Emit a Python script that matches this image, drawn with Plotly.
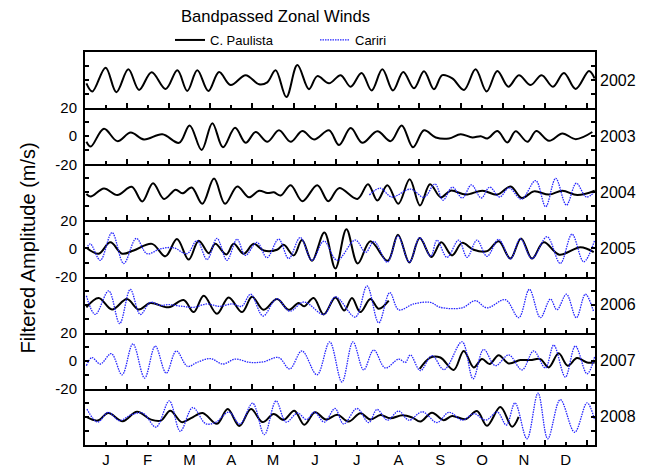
import plotly.graph_objects as go
from plotly.subplots import make_subplots

years = ["2002", "2003", "2004", "2005", "2006", "2007", "2008"]
month_days = [15, 45, 75, 105, 135, 165, 195, 225, 255, 285, 315, 345]
month_labels = ["J", "F", "M", "A", "M", "J", "J", "A", "S", "O", "N", "D"]

# ---- C. Paulista (black) : day of year, filtered amplitude (m/s) ----
cp2002_d = [1.0, 5.3, 14.8, 22.5, 31.1, 38.8, 47.8, 57.9, 66.3, 73.4, 80.6, 88.5, 96.2, 104.5, 115.3, 124.9, 130.8,
            136.8, 144.5, 152.4, 160.7, 166.7, 175.1, 183.5, 190.6, 198.5, 205.7, 213.4, 221.0, 228.4, 236.1, 243.3,
            250.4, 256.4, 263.6, 272.0, 280.3, 288.2, 295.9, 303.8, 311.4, 319.8, 327.7, 335.8, 343.7, 352.1, 361.7, 365.7]
cp2002_v = [-2.3, -8.1, 8.8, -8.6, 7.7, -7.0, 5.6, -6.3, 7.0, -7.7, 7.0, -7.7, 5.8, -3.5, 3.5, -3.0, -1.6,
            7.0, -12.1, 10.7, -6.5, 2.8, -2.3, 3.5, -4.7, 5.1, -7.4, 7.7, -7.4, 5.8, -5.8, 6.3,
            -6.5, 3.5, 1.2, -7.0, 7.7, -8.1, 6.5, -4.7, 3.5, -3.5, 3.5, -4.7, 5.1, -6.3, 6.5, 1.2]

cp2003_d = [1.0, 4.1, 13.6, 23.2, 32.8, 42.3, 55.5, 67.5, 75.1, 83.7, 91.4, 99.0, 107.7, 115.3, 122.5, 130.9, 139.2,
            147.6, 156.0, 164.4, 175.1, 182.3, 190.7, 199.0, 209.8, 219.4, 227.3, 235.4, 243.3, 251.7, 261.2, 269.6,
            278.0, 284.0, 288.8, 296.0, 303.1, 309.1, 317.5, 323.9, 333.0, 342.6, 352.2, 364.1]
cp2003_v = [-4.0, -7.4, 5.3, -3.5, 2.6, -2.3, 1.4, -4.7, 7.7, -9.8, 9.3, -7.9, 6.0, -4.7, 3.0, -4.0, 4.2,
            -4.0, 3.7, -2.3, 4.2, -6.3, 5.8, -4.7, 3.5, -3.5, 7.7, -7.9, 4.2, -0.9, -1.6, 1.4,
            -0.9, 0.0, -1.6, 3.7, -4.4, 3.5, -4.0, 3.7, -3.3, 1.9, -2.1, 3.0]

cp2004_d = [1.0, 4.1, 13.6, 23.2, 33.5, 41.1, 48.8, 56.7, 65.1, 69.9, 76.6, 84.2, 92.6, 100.5, 109.3, 117.7, 124.9,
            130.9, 135.6, 140.4, 147.6, 156.0, 166.7, 174.6, 182.3, 195.5, 203.1, 209.8, 217.0, 224.9, 233.0, 240.4,
            247.6, 255.3, 262.4, 273.2, 285.2, 295.9, 305.5, 313.4, 322.2, 333.0, 342.6, 353.3, 365.8]
cp2004_v = [-1.2, -3.0, 2.8, -1.9, 4.0, -6.5, 6.5, -4.7, 1.9, -0.7, 3.5, -8.1, 9.8, -8.1, 4.2, -3.5, 1.2,
            -0.5, 0.0, -2.3, 5.1, -6.3, 5.1, -6.3, 3.0, -4.7, 5.8, -5.8, 5.1, -8.1, 9.3, -9.3,
            5.8, -3.5, 1.2, -1.6, 1.2, -1.6, 4.2, -4.0, 0.7, -1.6, 1.2, -1.9, 1.2]

cp2005_d = [1.0, 9.8, 18.2, 26.6, 34.9, 48.1, 57.7, 66.0, 74.4, 81.6, 88.8, 93.5, 101.4, 106.7, 113.9, 121.1, 128.2,
            137.8, 142.6, 149.8, 155.7, 162.9, 171.8, 179.7, 187.6, 195.7, 204.8, 217.2, 224.6, 232.8, 240.2, 248.6,
            255.7, 263.4, 270.6, 278.9, 288.5, 296.9, 305.3, 312.9, 320.8, 329.2, 340.4, 355.5, 365.1]
cp2005_v = [0.5, -3.7, 4.4, -3.7, -1.4, 3.3, -5.6, 6.7, -7.9, 5.6, -3.3, 3.3, -4.2, 3.3, -3.7, 3.3, -1.4,
            -0.9, 2.6, -4.9, 6.0, -8.8, 11.4, -14.2, 13.7, -10.7, 5.1, -8.8, 9.8, -10.0, 7.4, -6.0,
            4.4, -4.9, 4.0, -0.9, -1.9, 5.1, -7.2, 7.2, -7.2, 4.4, -4.4, 0.9, -2.6]

cp2006_d = [1.0, 9.8, 19.4, 30.1, 38.5, 46.9, 60.0, 70.8, 78.0, 85.2, 94.7, 103.1, 112.7, 119.9, 128.2, 137.8, 146.2,
            153.3, 157.2, 164.1, 171.3, 179.7, 186.1, 191.6, 197.6, 204.8, 210.8, 218.0]
cp2006_v = [-1.9, 4.7, -3.5, 4.0, -3.5, 1.2, -1.9, 3.3, -5.3, 6.3, -6.5, 5.1, -5.3, 5.6, -3.7, 4.0, -3.7,
            1.2, -1.2, 4.7, -7.0, 5.1, -4.2, 4.7, -5.3, 4.0, -3.0, 2.8]

cp2007_d = [240.2, 247.8, 255.0, 264.6, 271.8, 278.9, 284.9, 290.4, 296.9, 304.1, 312.4, 319.6, 326.8, 332.8, 339.9,
            346.4, 353.1, 360.3, 365.8]
cp2007_v = [-5.8, 2.3, 2.3, -6.5, 7.0, -4.7, 1.2, -2.3, 4.0, -1.9, 0.5, 0.5, 1.2, -4.7, 5.3,
            -3.5, 1.9, -1.2, -1.2]

cp2008_d = [1.4, 9.1, 16.7, 27.0, 37.3, 47.4, 54.5, 61.2, 69.4, 76.1, 84.4, 94.7, 102.4, 110.8, 119.1, 127.5, 135.4,
            142.6, 150.2, 157.4, 165.1, 172.9, 181.1, 189.2, 197.6, 205.0, 212.0, 219.1, 227.8, 235.0, 240.7, 249.0,
            257.4, 263.4, 273.0, 281.3, 288.5, 298.1, 306.5, 311.2]
cp2008_v = [-0.2, -2.6, 2.8, -3.0, 3.7, -1.9, -2.6, 4.4, -3.7, -0.9, 2.8, -4.9, 5.6, -6.5, 5.6, -3.7, 2.1,
            -2.1, 4.4, -5.6, 3.3, -1.9, 1.6, -3.3, 2.6, -1.9, 1.4, -0.9, 1.2, -0.5, -3.3, 3.0,
            -2.3, 0.7, -1.6, 4.2, -6.3, 7.0, -7.0, 0.0]

# ---- Cariri (blue dotted) ----
ca2004_d = [204.1, 211.8, 220.2, 233.6, 243.3, 251.2, 256.9, 263.6, 270.8, 277.3, 284.4, 290.4, 297.6, 304.3, 313.2,
            323.4, 330.6, 337.8, 345.5, 352.6, 359.8, 365.8]
ca2004_v = [-1.9, 3.0, -3.3, 2.3, -3.5, 6.0, -5.6, 3.7, -4.0, 5.3, -4.0, 3.7, -3.3, 3.3, -4.9,
            8.4, -10.2, 10.0, -9.1, 6.5, -3.3, 0.5]

ca2005_d = [1.0, 3.8, 11.0, 19.4, 27.8, 36.8, 44.5, 54.1, 63.6, 73.2, 80.4, 87.6, 94.7, 101.9, 109.1, 115.1, 123.4,
            130.6, 139.0, 146.2, 154.5, 162.9, 171.5, 180.9, 194.0, 201.4, 207.4, 217.0, 224.6, 232.8, 240.2, 248.1,
            252.6, 259.8, 268.2, 274.2, 281.3, 288.5, 296.9, 305.3, 312.4, 320.8, 331.6, 341.1, 349.5, 357.9, 365.8]
ca2005_v = [-0.2, 3.3, -8.4, 11.4, -10.7, 7.2, -3.7, -0.2, 0.5, -3.7, 5.6, -7.9, 7.2, -8.4, 6.7, -4.9, 4.4,
            -6.5, 6.7, -7.2, 7.9, -8.4, 5.3, -8.4, 6.0, -2.8, 5.1, -9.8, 8.8, -9.8, 7.7, -5.6,
            6.0, -6.3, 6.0, -6.3, 6.0, -5.6, 6.5, -7.4, 7.0, -7.2, 8.4, -10.7, 10.2, -9.5, 6.0]

ca2006_d = [1.0, 7.4, 17.0, 24.9, 32.5, 39.7, 46.9, 54.3, 60.0, 69.9, 78.0, 87.6, 96.2, 105.7, 112.4, 118.9, 127.8,
            137.6, 146.9, 157.2, 171.5, 179.7, 194.0, 202.4, 210.8, 218.7, 225.2, 235.9, 247.8, 255.0, 270.6, 280.1,
            288.5, 301.7, 311.3, 318.9, 326.8, 334.0, 338.7, 345.5, 352.6, 359.1, 365.1]
ca2006_v = [6.3, -7.0, 9.8, -13.5, 10.9, -7.0, 1.6, -0.5, 0.0, -1.2, -1.9, 0.5, -1.2, 0.5, -1.2, 7.4, -8.1,
            4.2, -4.7, 1.9, -7.0, 5.6, -8.8, 13.3, -13.0, 8.6, -3.7, 0.5, 1.6, -1.9, -2.3, 2.8,
            -2.3, 3.5, -9.3, 10.9, -9.3, 4.0, -3.7, 7.4, -9.3, 7.4, -5.3]

ca2007_d = [1.0, 5.0, 11.0, 18.9, 26.6, 34.4, 42.8, 50.4, 58.3, 65.5, 73.6, 80.3, 89.9, 99.0, 107.8, 118.6, 128.2,
            139.0, 146.9, 155.7, 166.5, 175.6, 184.4, 192.3, 200.0, 207.2, 215.5, 225.1, 229.9, 233.5, 240.7, 249.0,
            257.7, 270.6, 278.5, 286.1, 294.5, 304.1, 313.6, 322.0, 330.4, 336.4, 344.7, 351.9, 360.3, 365.8]
ca2007_v = [-3.5, 2.3, -2.3, 5.1, -10.0, 12.1, -12.3, 10.5, -8.8, 7.0, -4.0, -1.2, 1.6, -2.3, 1.2, -1.2, -0.7,
            2.3, -5.8, 7.0, -10.0, 13.5, -15.1, 13.5, -6.5, 7.7, -5.1, 1.2, -1.2, 4.2, -7.0, 3.7,
            -6.3, 13.5, -12.8, 8.1, -3.5, 4.2, -6.5, 7.0, -5.1, 11.2, -11.6, 10.5, -9.3, 3.0]

ca2008_d = [1.4, 9.1, 16.7, 24.6, 32.8, 41.4, 51.0, 60.5, 68.4, 77.3, 86.8, 94.0, 103.3, 111.2, 120.3, 128.7, 137.1,
            144.3, 152.6, 158.9, 164.6, 171.8, 179.4, 185.6, 195.2, 203.6, 209.6, 217.0, 225.1, 232.5, 242.1, 252.6,
            261.2, 270.8, 279.2, 287.6, 295.9, 302.4, 308.6, 317.2, 325.1, 332.1, 341.1, 351.4, 360.3, 365.8]
ca2008_v = [5.6, -3.7, 3.3, -2.6, 1.4, 2.8, -7.2, 11.4, -10.2, 6.7, -4.9, -3.7, 3.5, -5.1, 9.8, -12.6, 11.4,
            -3.7, 2.8, -1.9, 3.5, -3.7, 6.0, -5.1, 6.0, -4.0, 5.3, -2.3, 4.2, -2.3, 3.7, -4.0,
            3.3, -2.3, 2.3, -2.3, 3.5, -5.8, 10.0, -15.6, 17.0, -15.6, 12.3, -10.9, 10.0, -2.3]

paulista = {"2002": (cp2002_d, cp2002_v), "2003": (cp2003_d, cp2003_v), "2004": (cp2004_d, cp2004_v),
            "2005": (cp2005_d, cp2005_v), "2006": (cp2006_d, cp2006_v), "2007": (cp2007_d, cp2007_v),
            "2008": (cp2008_d, cp2008_v)}
cariri = {"2004": (ca2004_d, ca2004_v), "2005": (ca2005_d, ca2005_v), "2006": (ca2006_d, ca2006_v),
          "2007": (ca2007_d, ca2007_v), "2008": (ca2008_d, ca2008_v)}

FONT = "Liberation Sans, Arial, sans-serif"
BLACK_LINE = dict(color="black", width=2, shape="spline", smoothing=1.0)
BLUE_LINE = dict(color="#2424ff", width=1.3, dash="1.5px,1px", shape="spline", smoothing=1.0)

n = len(years)
fig = make_subplots(rows=n, cols=1, shared_xaxes=True, vertical_spacing=0)

for i, yr in enumerate(years):
    r = i + 1
    if yr in paulista:
        d, v = paulista[yr]
        fig.add_trace(go.Scatter(x=d, y=v, mode="lines", line=BLACK_LINE, name="C. Paulista",
                                 showlegend=(yr == "2002"), legendrank=1), row=r, col=1)
    if yr in cariri:
        d, v = cariri[yr]
        fig.add_trace(go.Scatter(x=d, y=v, mode="lines", line=BLUE_LINE, name="Cariri",
                                 showlegend=(yr == "2004"), legendrank=2), row=r, col=1)

    labelled = yr in ("2003", "2005", "2007")
    fig.update_yaxes(row=r, col=1, range=[-20, 20], tickvals=[-20, -10, 0, 10, 20],
                     ticktext=["-20", "", "0", "", "20"] if labelled else ["", "", "", "", ""],
                     ticks="inside", ticklen=4, tickwidth=2, tickcolor="black", ticklabelstandoff=3,
                     showline=True, linecolor="black", linewidth=2, mirror="ticks",
                     showgrid=False, zeroline=False, fixedrange=True,
                     tickfont=dict(family=FONT, size=15, color="black"))
    fig.update_xaxes(row=r, col=1, range=[0, 366], tickvals=month_days,
                     ticktext=month_labels if r == n else [""] * 12,
                     showticklabels=(r == n),
                     ticks="inside", ticklen=3, tickwidth=2, tickcolor="black",
                     minor=dict(tick0=0, dtick=30, ticks="inside", ticklen=5, tickwidth=2, tickcolor="black"),
                     showline=True, linecolor="black", linewidth=2, mirror=(r == 1),
                     showgrid=False, zeroline=False, fixedrange=True,
                     tickfont=dict(family=FONT, size=15, color="black"))

annotations = []
for i, yr in enumerate(years):
    axis_suffix = "" if i == 0 else str(i + 1)
    annotations.append(dict(text=yr, xref="paper", yref="y" + axis_suffix + " domain", x=1, y=0.5,
                            xanchor="left", yanchor="middle", xshift=3, showarrow=False,
                            font=dict(family=FONT, size=16, color="black")))
annotations.append(dict(text="Bandpassed Zonal Winds", xref="paper", yref="paper",
                        x=(275 - 85) / 510, y=1 + (52 - 16) / 393, xanchor="center", yanchor="middle",
                        showarrow=False, font=dict(family=FONT, size=16.6, color="black")))
annotations.append(dict(text="Filtered Amplitude (m/s)", xref="paper", yref="paper",
                        x=(27 - 85) / 510, y=0.5, textangle=-90, xanchor="center", yanchor="middle",
                        showarrow=False, font=dict(family=FONT, size=20, color="black")))

fig.update_layout(
    width=651, height=468,
    margin=dict(l=85, r=56, t=52, b=23, autoexpand=False),
    paper_bgcolor="white", plot_bgcolor="white",
    font=dict(family=FONT, size=15, color="black"),
    annotations=annotations,
    showlegend=True,
    legend=dict(orientation="h", x=(170 - 85) / 510, y=1 - 40 / 468, xref="paper", yref="container",
                xanchor="left", yanchor="middle",
                font=dict(family=FONT, size=13, color="black"), bgcolor="rgba(0,0,0,0)",
                entrywidth=100, entrywidthmode="pixels", itemwidth=30, tracegroupgap=0),
)

fig.write_html("out.html", config={"displayModeBar": False, "staticPlot": True},
               post_script="document.body.style.margin='0';document.body.style.overflow='hidden';")
